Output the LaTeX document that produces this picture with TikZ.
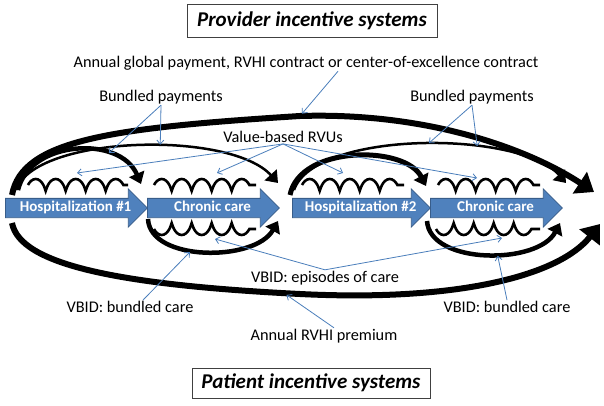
\documentclass[tikz,border=0pt]{standalone}
\usepackage{fontspec}
\setmainfont{Carlito}
\usetikzlibrary{shapes.arrows,decorations.pathmorphing,arrows.meta}

\definecolor{stagefill}{HTML}{4F81BD}
\definecolor{stageedge}{HTML}{385D8A}
\definecolor{linkblue}{HTML}{4A7EBB}

\tikzset{
  stage/.style={single arrow, fill=stagefill, draw=stageedge, line width=0.8pt,
    text=white, font=\bfseries\fontsize{15}{17}\selectfont, anchor=tail,
    single arrow head extend=9.5pt, inner ysep=2.5pt, inner xsep=2pt,
    text height=10.5pt, text depth=3pt},
  heading/.style={draw=black!75, line width=0.8pt,
    font=\bfseries\itshape\fontsize{21}{25}\selectfont},
  note/.style={font=\fontsize{16.3}{19}\selectfont, inner sep=1pt},
  pointer/.style={draw=linkblue, line width=0.8pt, -{Straight Barb[length=4pt,width=7pt]}},
  flow/.style={line width=#1, line cap=butt, -{Triangle[length=17pt,width=25pt]}},
  flow/.default=6pt,
  smallflow/.style={line width=#1, line cap=butt, -{Triangle[length=11pt,width=16pt]}},
  smallflow/.default=4.5pt,
  springup/.style={line width=2.6pt, decorate,
    decoration={coil, amplitude=6pt, segment length=20pt, aspect=0.45}},
  springdown/.style={springup, decoration={mirror}},
}

\begin{document}
\begin{tikzpicture}[x=1pt, y=-1pt]
  \useasboundingbox (0,0) rectangle (604,406);

  % Titles and captions
  \node[heading, minimum width=250pt, minimum height=33pt] (provider) at (312,21) {Provider incentive systems};
  \node[heading, minimum width=238pt, minimum height=30pt] (patient) at (311,383) {Patient incentive systems};
  \node[note] (global) at (306,63) {Annual global payment, RVHI contract or center-of-excellence contract};
  \node[note] (bundledL) at (161,97) {Bundled payments};
  \node[note] (bundledR) at (472,97) {Bundled payments};
  \node[note] (rvu) at (283,137) {Value-based RVUs};
  \node[note] (episodes) at (325,278) {VBID: episodes of care};
  \node[note] (vbidL) at (130,307) {VBID: bundled care};
  \node[note] (vbidR) at (507,307) {VBID: bundled care};
  \node[note] (premium) at (324,336) {Annual RVHI premium};

  % Care stages
  \node[stage, minimum height=142pt] (hosp1) at (5,208) {\hspace*{8pt}Hospitalization \#1};
  \node[stage, minimum height=132pt] (chronic1) at (147,208) {\hspace*{8pt}Chronic care};
  \node[stage, minimum height=138pt] (hosp2) at (292,208) {\hspace*{8pt}Hospitalization \#2};
  \node[stage, minimum height=132pt] (chronic2) at (430,208) {\hspace*{8pt}Chronic care};

  % Coils above and below the stages
  \draw[springup] (28,185) -- (128,185);
  \draw[springup] (154,185) -- (256,185);
  \draw[springup] (302,185) -- (404,185);
  \draw[springup] (438,185) -- (540,185);
  \draw[springdown] (154,229) -- (256,229);
  \draw[springdown] (436,229) -- (540,229);

  % Upper flows
  \draw[flow] (12,195) .. controls (22,140) and (110,128) .. (300,116) coordinate (topMid)
    .. controls (430,112) and (530,150) .. (594,192);
  \draw[smallflow=2.5pt] (16,190) .. controls (35,135) and (230,130) .. (278,183)
    coordinate[pos=0.57] (spanTopL);
  \draw[smallflow] (18,190) .. controls (30,140) and (120,135) .. (141,184)
    coordinate[pos=0.7] (hospTopL);
  \draw[smallflow=5pt] (290,195) .. controls (300,145) and (405,145) .. (426,186);
  \draw[smallflow=2.5pt] (294,190) .. controls (315,130) and (520,130) .. (566,183)
    coordinate[pos=0.52] (spanTopR) coordinate[pos=0.66] (spanTopRR);

  % Lower flows
  \draw[flow] (12,223) .. controls (20,265) and (120,285) .. (300,294)
    coordinate[pos=0.97] (botMid)
    .. controls (460,302) and (560,275) .. (600,224);
  \draw[smallflow] (148,219) .. controls (150,262) and (255,262) .. (278,221)
    coordinate[pos=0.42] (chronBotL);
  \draw[smallflow] (427,221) .. controls (430,265) and (538,265) .. (560,223)
    coordinate[pos=0.56] (chronBotR);

  % Free ends of the pointers
  \coordinate (coilA) at (77,173);
  \coordinate (coilB) at (217,173);
  \coordinate (coilC) at (343,173);
  \coordinate (coilD) at (477,178);
  \coordinate (cupA) at (215,239);
  \coordinate (cupB) at (502,238);

  % Pointers from the captions
  \draw[pointer, shorten >=3pt] ([xshift=32pt]global.south) -- (topMid);
  \draw[pointer, shorten >=2pt] (bundledL.south) -- (hospTopL);
  \draw[pointer, shorten >=1.5pt] (bundledL.south) -- (spanTopL);
  \draw[pointer, shorten >=1.5pt] (bundledR.south) -- (spanTopR);
  \draw[pointer, shorten >=1.5pt] (bundledR.south) -- (spanTopRR);
  \draw[pointer] (rvu.south) -- (coilA);
  \draw[pointer] (rvu.south) -- (coilB);
  \draw[pointer] (rvu.south) -- (coilC);
  \draw[pointer] (rvu.south) -- (coilD);
  \draw[pointer] (episodes.north) -- (cupA);
  \draw[pointer] (episodes.north) -- (cupB);
  \draw[pointer, shorten >=2pt] ([xshift=13pt]vbidL.north) -- (chronBotL);
  \draw[pointer, shorten >=2pt] (vbidR.north) -- (chronBotR);
  \draw[pointer, shorten >=3pt] ([xshift=10pt]premium.north) -- (botMid);
\end{tikzpicture}
\end{document}
